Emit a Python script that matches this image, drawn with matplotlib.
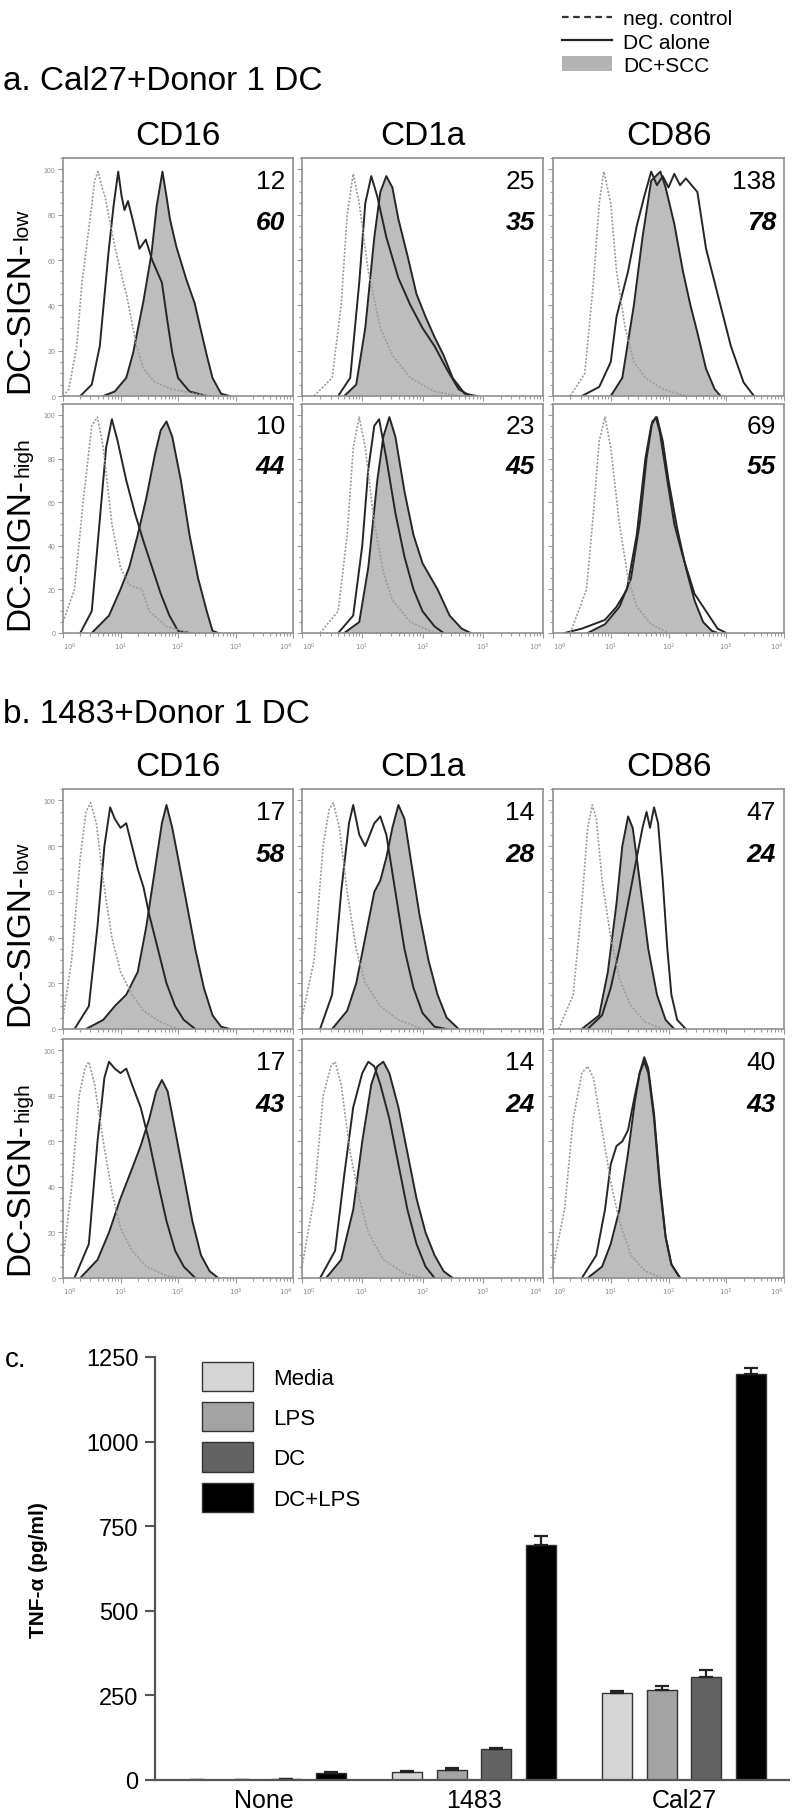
import numpy as np
import matplotlib
matplotlib.use('Agg')
import matplotlib.pyplot as plt
from matplotlib.lines import Line2D
from matplotlib.patches import Patch
from matplotlib.ticker import LogLocator, NullFormatter, MultipleLocator

plt.rcParams['font.family'] = ['Liberation Sans', 'DejaVu Sans']

W, H = 793, 1815

# ---- histogram curves: (log10 intensity, % of max) ----
a1_cd16_neg = [(0, 0), (0.1, 3), (0.24, 22), (0.33, 50), (0.47, 78), (0.55, 95), (0.61, 99), (0.68, 92), (0.73, 88),
               (0.9, 66), (1.11, 44), (1.28, 22), (1.4, 12), (1.6, 6), (1.9, 3), (2.3, 1), (2.6, 0)]
a1_cd16_dc = [(0.3, 0), (0.5, 5), (0.64, 22), (0.79, 63), (0.88, 84), (0.96, 99), (1.02, 88), (1.07, 82), (1.13, 86),
              (1.21, 78), (1.33, 65), (1.44, 69), (1.55, 60), (1.72, 50), (1.81, 34), (1.9, 19), (2.0, 8), (2.2, 2), (2.5, 0)]
a1_cd16_scc = [(0.7, 0), (0.9, 2), (1.1, 8), (1.22, 19), (1.4, 42), (1.54, 63), (1.63, 84), (1.73, 99), (1.8, 88),
               (1.86, 78), (1.97, 66), (2.15, 51), (2.29, 41), (2.38, 31), (2.5, 18), (2.6, 8), (2.75, 1), (2.9, 0)]

a1_cd1a_neg = [(0.2, 0), (0.5, 8), (0.65, 40), (0.75, 80), (0.85, 98), (0.95, 85), (1.1, 55), (1.3, 30), (1.5, 18),
               (1.8, 8), (2.2, 2), (2.6, 0)]
a1_cd1a_dc = [(0.6, 0), (0.8, 8), (0.95, 50), (1.05, 85), (1.15, 97), (1.25, 88), (1.4, 70), (1.6, 52), (1.8, 40),
              (2.0, 30), (2.2, 22), (2.4, 12), (2.6, 3), (2.8, 0)]
a1_cd1a_scc = [(0.7, 0), (0.9, 5), (1.05, 30), (1.2, 70), (1.3, 90), (1.4, 97), (1.5, 92), (1.6, 78), (1.75, 62),
               (1.9, 45), (2.05, 35), (2.2, 26), (2.35, 18), (2.5, 8), (2.7, 1), (2.9, 0)]

a1_cd86_neg = [(0.3, 0), (0.55, 10), (0.7, 50), (0.8, 85), (0.88, 99), (1.0, 85), (1.1, 55), (1.25, 30), (1.4, 15),
               (1.6, 8), (1.9, 3), (2.3, 0)]
a1_cd86_dc = [(0.5, 0), (0.8, 4), (1.0, 15), (1.1, 35), (1.3, 55), (1.45, 75), (1.58, 88), (1.7, 99), (1.8, 93),
              (1.9, 97), (2.0, 92), (2.1, 98), (2.2, 93), (2.3, 96), (2.5, 90), (2.65, 65), (2.85, 45), (3.08, 22),
              (3.3, 6), (3.48, 0)]
a1_cd86_scc = [(1.0, 0), (1.2, 8), (1.4, 40), (1.55, 70), (1.7, 95), (1.86, 99), (1.95, 92), (2.1, 76), (2.25, 55),
               (2.38, 40), (2.5, 28), (2.65, 12), (2.8, 3), (2.9, 0)]

a2_cd16_neg = [(0, 5), (0.2, 20), (0.35, 60), (0.5, 95), (0.6, 99), (0.7, 85), (0.85, 50), (1.0, 30), (1.15, 22),
               (1.37, 20), (1.5, 10), (1.8, 3), (2.2, 0)]
a2_cd16_dc = [(0.3, 0), (0.5, 10), (0.65, 55), (0.75, 85), (0.85, 98), (0.95, 88), (1.1, 70), (1.25, 55), (1.4, 42),
              (1.55, 30), (1.7, 18), (1.85, 8), (2.0, 1), (2.2, 0)]
a2_cd16_scc = [(0.5, 0), (0.8, 8), (1.0, 20), (1.15, 30), (1.3, 45), (1.45, 62), (1.6, 82), (1.7, 93), (1.8, 97),
               (1.9, 90), (2.05, 70), (2.2, 45), (2.35, 25), (2.5, 10), (2.6, 1), (2.7, 0)]

a2_cd1a_neg = [(0.3, 0), (0.6, 10), (0.75, 45), (0.85, 85), (0.95, 99), (1.05, 85), (1.2, 50), (1.35, 28), (1.5, 15),
               (1.8, 5), (2.2, 0)]
a2_cd1a_dc = [(0.6, 0), (0.85, 8), (1.0, 40), (1.1, 75), (1.2, 95), (1.28, 98), (1.4, 80), (1.55, 55), (1.7, 35),
              (1.85, 20), (2.0, 10), (2.2, 3), (2.35, 0)]
a2_cd1a_scc = [(0.7, 0), (0.95, 5), (1.1, 30), (1.25, 70), (1.35, 90), (1.45, 99), (1.55, 90), (1.7, 65), (1.85, 45),
               (2.0, 32), (2.25, 20), (2.45, 8), (2.65, 2), (2.8, 0)]

a2_cd86_neg = [(0.3, 0), (0.58, 20), (0.7, 55), (0.8, 88), (0.9, 99), (1.0, 85), (1.15, 50), (1.3, 25), (1.45, 12),
               (1.7, 4), (2.0, 0)]
a2_cd86_dc = [(0.2, 0), (0.5, 2), (0.9, 6), (1.1, 12), (1.28, 20), (1.45, 45), (1.6, 80), (1.7, 95), (1.78, 99),
              (1.85, 92), (1.95, 75), (2.1, 50), (2.25, 35), (2.45, 18), (2.6, 12), (2.7, 8), (2.85, 2), (3.0, 0)]
a2_cd86_scc = [(0.6, 0), (0.9, 4), (1.15, 12), (1.35, 25), (1.5, 50), (1.62, 80), (1.72, 97), (1.8, 99), (1.9, 88),
               (2.0, 70), (2.15, 48), (2.3, 30), (2.45, 15), (2.6, 5), (2.75, 1), (2.85, 0)]

b1_cd16_neg = [(0, 5), (0.15, 30), (0.3, 75), (0.4, 95), (0.48, 99), (0.58, 90), (0.7, 65), (0.85, 40), (1.0, 25),
               (1.2, 15), (1.4, 8), (1.7, 3), (2.0, 0)]
b1_cd16_dc = [(0.2, 0), (0.45, 10), (0.6, 45), (0.72, 80), (0.82, 97), (0.9, 92), (1.0, 88), (1.1, 90), (1.2, 80),
              (1.3, 70), (1.4, 62), (1.5, 50), (1.65, 35), (1.8, 20), (1.95, 10), (2.1, 4), (2.3, 0)]
b1_cd16_scc = [(0.4, 0), (0.7, 4), (0.9, 10), (1.1, 15), (1.3, 25), (1.45, 45), (1.6, 70), (1.72, 90), (1.8, 98),
               (1.9, 88), (2.0, 75), (2.15, 55), (2.3, 35), (2.45, 18), (2.6, 6), (2.75, 1), (2.9, 0)]

b1_cd1a_neg = [(0, 5), (0.2, 30), (0.35, 80), (0.45, 96), (0.52, 99), (0.62, 88), (0.75, 60), (0.9, 35), (1.05, 20),
               (1.3, 10), (1.6, 4), (2.0, 0)]
b1_cd1a_dc = [(0.3, 0), (0.5, 15), (0.65, 60), (0.78, 90), (0.85, 98), (0.95, 85), (1.05, 80), (1.2, 90), (1.3, 93),
              (1.4, 85), (1.55, 60), (1.7, 35), (1.85, 18), (2.0, 7), (2.2, 1), (2.4, 0)]
b1_cd1a_scc = [(0.5, 0), (0.75, 8), (0.9, 20), (1.05, 40), (1.2, 60), (1.3, 65), (1.4, 75), (1.5, 88), (1.6, 98),
               (1.7, 92), (1.8, 75), (1.95, 50), (2.1, 30), (2.25, 15), (2.4, 5), (2.6, 0)]

b1_cd86_neg = [(0.1, 0), (0.35, 15), (0.5, 55), (0.6, 88), (0.68, 98), (0.75, 92), (0.85, 65), (1.0, 40), (1.15, 22),
               (1.35, 10), (1.6, 3), (1.9, 0)]
b1_cd86_dc = [(0.6, 0), (0.85, 6), (1.0, 18), (1.15, 35), (1.3, 55), (1.45, 75), (1.55, 88), (1.62, 95), (1.68, 88),
              (1.75, 97), (1.82, 90), (1.9, 65), (1.98, 35), (2.05, 15), (2.15, 4), (2.3, 0)]
b1_cd86_scc = [(0.5, 0), (0.8, 6), (0.95, 25), (1.1, 55), (1.2, 80), (1.3, 93), (1.38, 88), (1.45, 75), (1.55, 55),
               (1.65, 35), (1.8, 15), (1.95, 4), (2.1, 0)]

b2_cd16_neg = [(0, 8), (0.15, 40), (0.28, 80), (0.38, 92), (0.45, 95), (0.55, 85), (0.7, 60), (0.85, 38), (1.0, 22),
               (1.2, 12), (1.45, 5), (1.8, 1), (2.1, 0)]
b2_cd16_dc = [(0.2, 0), (0.45, 15), (0.6, 60), (0.72, 88), (0.8, 95), (0.9, 92), (1.0, 90), (1.1, 92), (1.2, 85),
              (1.35, 75), (1.5, 60), (1.65, 42), (1.8, 25), (1.95, 12), (2.1, 5), (2.3, 0)]
b2_cd16_scc = [(0.3, 0), (0.6, 8), (0.8, 20), (1.0, 35), (1.2, 48), (1.35, 58), (1.5, 70), (1.62, 82), (1.72, 87),
               (1.82, 82), (1.95, 65), (2.1, 45), (2.25, 25), (2.4, 10), (2.55, 3), (2.7, 0)]

b2_cd1a_neg = [(0, 5), (0.2, 35), (0.35, 80), (0.48, 93), (0.55, 95), (0.65, 85), (0.8, 55), (0.95, 35), (1.1, 20),
               (1.35, 8), (1.7, 2), (2.0, 0)]
b2_cd1a_dc = [(0.3, 0), (0.55, 12), (0.7, 45), (0.85, 75), (1.0, 90), (1.1, 95), (1.2, 93), (1.3, 85), (1.45, 70),
              (1.6, 50), (1.75, 30), (1.9, 15), (2.05, 5), (2.2, 0)]
b2_cd1a_scc = [(0.4, 0), (0.65, 8), (0.85, 30), (1.0, 60), (1.15, 85), (1.25, 93), (1.35, 95), (1.45, 90), (1.6, 75),
               (1.75, 55), (1.9, 35), (2.05, 20), (2.2, 10), (2.35, 3), (2.5, 0)]

b2_cd86_neg = [(0, 5), (0.2, 30), (0.35, 70), (0.5, 90), (0.6, 93), (0.7, 88), (0.85, 65), (1.0, 42), (1.15, 25),
               (1.35, 10), (1.6, 3), (1.9, 0)]
b2_cd86_dc = [(0.5, 0), (0.75, 10), (0.9, 30), (1.0, 50), (1.1, 58), (1.2, 60), (1.3, 65), (1.4, 78), (1.5, 90),
              (1.58, 95), (1.65, 90), (1.75, 70), (1.85, 40), (1.95, 18), (2.05, 6), (2.2, 0)]
b2_cd86_scc = [(0.6, 0), (0.85, 5), (1.0, 15), (1.15, 30), (1.3, 55), (1.42, 78), (1.5, 90), (1.58, 97), (1.65, 92),
               (1.75, 72), (1.85, 42), (1.95, 18), (2.05, 6), (2.2, 0)]

markers = ['CD16', 'CD1a', 'CD86']
row_tags = ['low', 'high']
mfi_dc_a = [[12, 25, 138], [10, 23, 69]]
mfi_scc_a = [[60, 35, 78], [44, 45, 55]]
mfi_dc_b = [[17, 14, 47], [17, 14, 40]]
mfi_scc_b = [[58, 28, 24], [43, 24, 43]]
decade_labels = ['$10^0$', '$10^1$', '$10^2$', '$10^3$', '$10^4$']

# ---- TNF-alpha bar chart ----
groups = ['None', '1483', 'Cal27']
conditions = ['Media', 'LPS', 'DC', 'DC+LPS']
tnf_media = [0, 24, 258]
tnf_lps = [0, 31, 266]
tnf_dc = [3, 92, 303]
tnf_dclps = [20, 695, 1200]
err_media = [0, 4, 6]
err_lps = [0, 4, 11]
err_dc = [1, 4, 22]
err_dclps = [3, 26, 17]

bar_colors = ['#d6d6d6', '#a3a3a3', '#636363', '#000000']
gray_fill = '#bdbdbd'

fig = plt.figure(figsize=(W / 100, H / 100), dpi=100)


def px_axes(l, t, r, b):
    return fig.add_axes([l / W, 1 - b / H, (r - l) / W, (b - t) / H])


def fy(y):
    return 1 - y / H


cols = [(63, 293), (302, 543), (553, 784)]
rows_a = [(159, 397), (405, 634)]
rows_b = [(790, 1030), (1040, 1279)]

panels_a = [[(a1_cd16_neg, a1_cd16_dc, a1_cd16_scc), (a1_cd1a_neg, a1_cd1a_dc, a1_cd1a_scc),
             (a1_cd86_neg, a1_cd86_dc, a1_cd86_scc)],
            [(a2_cd16_neg, a2_cd16_dc, a2_cd16_scc), (a2_cd1a_neg, a2_cd1a_dc, a2_cd1a_scc),
             (a2_cd86_neg, a2_cd86_dc, a2_cd86_scc)]]
panels_b = [[(b1_cd16_neg, b1_cd16_dc, b1_cd16_scc), (b1_cd1a_neg, b1_cd1a_dc, b1_cd1a_scc),
             (b1_cd86_neg, b1_cd86_dc, b1_cd86_scc)],
            [(b2_cd16_neg, b2_cd16_dc, b2_cd16_scc), (b2_cd1a_neg, b2_cd1a_dc, b2_cd1a_scc),
             (b2_cd86_neg, b2_cd86_dc, b2_cd86_scc)]]


def xy(curve):
    c = np.array(curve, dtype=float)
    return 10 ** c[:, 0], c[:, 1]


def draw_block(rows, panels, mfi_dc, mfi_scc):
    for i, (t, b) in enumerate(rows):
        for j, (l, r) in enumerate(cols):
            ax = px_axes(l, t, r, b)
            neg, dc, scc = panels[i][j]
            x, y = xy(scc)
            ax.fill_between(x, y, 0, color=gray_fill, lw=0)
            ax.plot(x, y, color='#262626', lw=1.4)
            x, y = xy(dc)
            ax.plot(x, y, color='#262626', lw=1.4)
            x, y = xy(neg)
            ax.plot(x, y, color='#9a9a9a', lw=1.2, ls=(0, (1.2, 1.0)))
            ax.set_xscale('log')
            ax.set_xlim(1, 1e4)
            ax.set_ylim(0, 105)
            ax.set_xticks([1, 10, 100, 1000, 10000])
            ax.set_xticklabels(decade_labels)
            ax.xaxis.set_minor_locator(LogLocator(base=10, subs=np.arange(2, 10)))
            ax.xaxis.set_minor_formatter(NullFormatter())
            ax.set_yticks([0, 20, 40, 60, 80, 100])
            ax.yaxis.set_minor_locator(MultipleLocator(5))
            for s in ax.spines.values():
                s.set_color('#8f8f8f')
                s.set_linewidth(1.2)
            ax.tick_params(which='both', direction='out', color='#9a9a9a', width=0.8,
                           labelsize=5, labelcolor='#8a8a8a', pad=2)
            ax.tick_params(which='major', length=3.5)
            ax.tick_params(which='minor', length=2)
            ax.tick_params(axis='y', labelleft=(j == 0))
            ax.tick_params(axis='x', labelbottom=(i == 1))
            # keep the end labels of neighbouring panels apart
            mt = ax.xaxis.get_major_ticks()
            mt[0].label1.set_horizontalalignment('left')
            mt[-1].label1.set_horizontalalignment('right')
            ax.text(0.965, 0.955, str(mfi_dc[i][j]), transform=ax.transAxes, ha='right', va='top', fontsize=19)
            ax.text(0.965, 0.78, str(mfi_scc[i][j]), transform=ax.transAxes, ha='right', va='top', fontsize=19,
                    fontweight='bold', fontstyle='italic')
        # row label: big "DC-SIGN-" then small tag, sharing the baseline
        main = fig.text(28 / W, fy(b - 4), 'DC-SIGN-', rotation=90, rotation_mode='anchor',
                        ha='left', va='baseline', fontsize=24)
        fig.canvas.draw()
        bb = main.get_window_extent(fig.canvas.get_renderer())
        fig.text(28 / W, (bb.y1 + 1) / H, row_tags[i], rotation=90, rotation_mode='anchor',
                 ha='left', va='baseline', fontsize=15)
    # column titles
    for j, (l, r) in enumerate(cols):
        fig.text((l + r) / 2 / W, fy(rows[0][0] - 14), markers[j], ha='center', va='baseline', fontsize=24)


draw_block(rows_a, panels_a, mfi_dc_a, mfi_scc_a)
draw_block(rows_b, panels_b, mfi_dc_b, mfi_scc_b)

fig.text(3 / W, fy(82), 'a. Cal27+Donor 1 DC', ha='left', va='center', fontsize=24)
fig.text(3 / W, fy(715), 'b. 1483+Donor 1 DC', ha='left', va='center', fontsize=24)

handles = [Line2D([], [], color='#333333', lw=1.6, ls=(0, (3, 2))),
           Line2D([], [], color='#222222', lw=1.6),
           Patch(facecolor='#b3b3b3', edgecolor='none')]
fig.legend(handles, ['neg. control', 'DC alone', 'DC+SCC'], loc='upper left', bbox_to_anchor=(552 / W, 1.0),
           frameon=False, fontsize=15, handlelength=2.4, handletextpad=0.5, labelspacing=0.2, borderaxespad=0.1)

# ---- bar chart ----
ax = px_axes(155, 1358, 789, 1781)
xg = np.arange(len(groups))
step = 0.212
series = [(tnf_media, err_media), (tnf_lps, err_lps), (tnf_dc, err_dc), (tnf_dclps, err_dclps)]
for k, (vals, err) in enumerate(series):
    ax.bar(xg + (k - 1.5) * step, vals, width=0.143, color=bar_colors[k], edgecolor='#333333', linewidth=1.0,
           yerr=[np.zeros(len(err)), err], capsize=5,
           error_kw=dict(ecolor='#222222', elinewidth=1.6, capthick=1.6), label=conditions[k])
ax.set_xlim(-0.52, 2.5)
ax.set_ylim(0, 1250)
ax.set_yticks([0, 250, 500, 750, 1000, 1250])
ax.set_xticks(xg)
ax.set_xticklabels(groups)
for s in ['top', 'right']:
    ax.spines[s].set_visible(False)
for s in ['left', 'bottom']:
    ax.spines[s].set_color('#555555')
    ax.spines[s].set_linewidth(1.6)
ax.tick_params(axis='y', direction='out', length=7, width=1.5, color='#555555', labelsize=17, pad=5)
ax.tick_params(axis='x', length=0, labelsize=18, pad=6)
ax.legend(loc='upper left', bbox_to_anchor=(0.06, 1.01), frameon=False, fontsize=16, handlelength=2.3,
          handleheight=1.65, labelspacing=0.5, handletextpad=0.9, borderaxespad=0)
fig.text(38 / W, fy(1570), 'TNF-α (pg/ml)', rotation=90, ha='center', va='center', fontsize=15, fontweight='bold')
fig.text(5 / W, fy(1360), 'c.', ha='left', va='center', fontsize=20)

fig.savefig('out.png', dpi=100)
